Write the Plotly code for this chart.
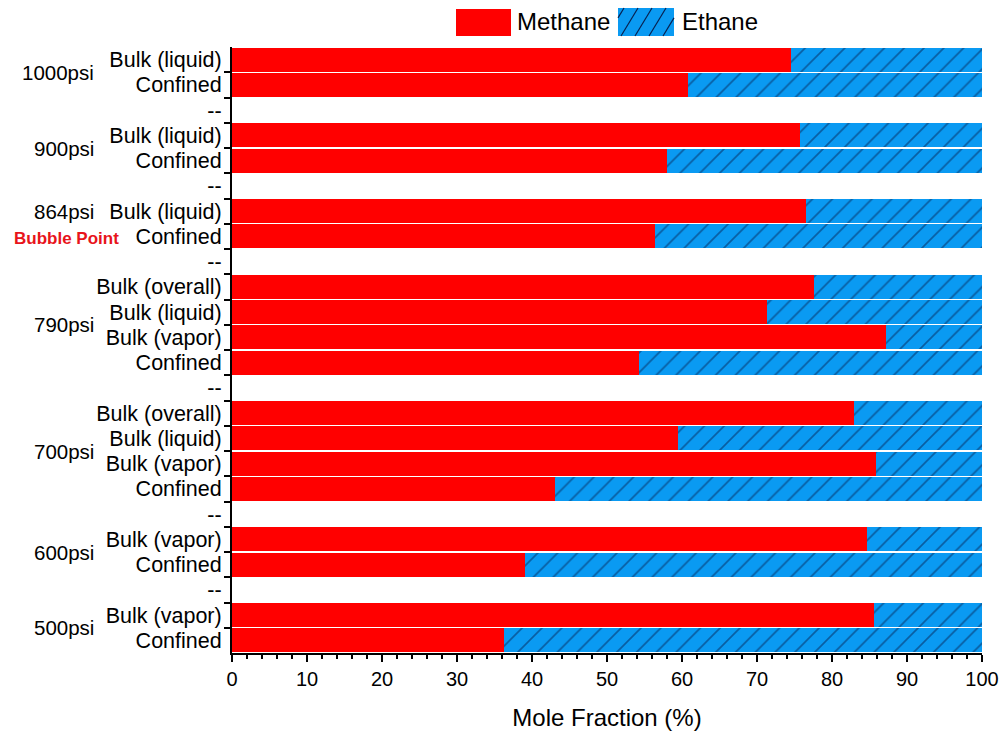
import plotly.graph_objects as go

# Row labels (top to bottom); "--" rows separate the pressure groups
row_labels = [
    "Bulk (liquid)", "Confined", "--",
    "Bulk (liquid)", "Confined", "--",
    "Bulk (liquid)", "Confined", "--",
    "Bulk (overall)", "Bulk (liquid)", "Bulk (vapor)", "Confined", "--",
    "Bulk (overall)", "Bulk (liquid)", "Bulk (vapor)", "Confined", "--",
    "Bulk (vapor)", "Confined", "--",
    "Bulk (vapor)", "Confined",
]

# Mole fractions (%) per row; None for separator rows
methane = [
    74.5, 60.8, None,
    75.7, 58.0, None,
    76.5, 56.4, None,
    77.6, 71.3, 87.2, 54.2, None,
    82.9, 59.5, 85.9, 43.0, None,
    84.7, 39.1, None,
    85.6, 36.2,
]
ethane = [
    25.5, 39.2, None,
    24.3, 42.0, None,
    23.5, 43.6, None,
    22.4, 28.7, 12.8, 45.8, None,
    17.1, 40.5, 14.1, 57.0, None,
    15.3, 60.9, None,
    14.4, 63.8,
]

# Pressure group labels and the row positions they are centred on
pressure_labels = ["1000psi", "900psi", "864psi", "790psi", "700psi", "600psi", "500psi"]
pressure_rows = [0.5, 3.5, 6, 10.5, 15.5, 19.5, 22.5]

x_ticks = [0, 10, 20, 30, 40, 50, 60, 70, 80, 90, 100]

RED = "#FF0000"
BLUE = "#0A9AF2"
HATCH = "#08204F"
FONT = "Liberation Sans, Arial, sans-serif"

W, H = 1003, 731
ML, MR, MT, MB = 232, 21, 47, 78
PW, PH = W - ML - MR, H - MT - MB

rows = list(range(len(row_labels)))

fig = go.Figure()
fig.add_trace(go.Bar(
    y=rows, x=methane, orientation="h", name="Methane",
    marker=dict(color=RED, line=dict(width=0)),
))
fig.add_trace(go.Bar(
    y=rows, x=ethane, orientation="h", name="Ethane",
    marker=dict(
        color=BLUE, line=dict(width=0),
        pattern=dict(shape="/", fillmode="overlay", fgcolor=HATCH,
                     size=14, solidity=0.12),
    ),
))

# Pressure group labels to the left of the row labels
annotations = []
for lab, r in zip(pressure_labels, pressure_rows):
    annotations.append(dict(
        text=lab, x=-136 / PW, xref="paper", y=r, yref="y",
        xanchor="right", yanchor="middle", showarrow=False,
        font=dict(family=FONT, size=20.5, color="black"),
    ))
annotations.append(dict(
    text="<b>Bubble Point</b>", x=-111 / PW, xref="paper", y=7.1, yref="y",
    xanchor="right", yanchor="middle", showarrow=False,
    font=dict(family=FONT, size=17, color="#E8141B"),
))


def px_x(px):
    return (px - ML) / PW


def px_y(py):
    return (H - MB - py) / PH


# Legend drawn above the plot
shapes = []
shapes.append(dict(type="rect", xref="paper", yref="paper",
                   x0=px_x(456), x1=px_x(511), y0=px_y(36), y1=px_y(9),
                   fillcolor=RED, line=dict(width=0), layer="above"))
lx0, lx1, ly0, ly1 = 618, 674, 8, 36
shapes.append(dict(type="rect", xref="paper", yref="paper",
                   x0=px_x(lx0), x1=px_x(lx1), y0=px_y(ly1), y1=px_y(ly0),
                   fillcolor=BLUE, line=dict(width=0), layer="above"))
dx = 17
for b in range(lx0 - dx + 6, lx1, 14):
    t0 = max(0.0, (lx0 - b) / dx)
    t1 = min(1.0, (lx1 - b) / dx)
    if t1 <= t0:
        continue
    xa, ya = b + dx * t0, ly1 - (ly1 - ly0) * t0
    xb, yb = b + dx * t1, ly1 - (ly1 - ly0) * t1
    shapes.append(dict(type="line", xref="paper", yref="paper",
                       x0=px_x(xa), y0=px_y(ya), x1=px_x(xb), y1=px_y(yb),
                       line=dict(color=HATCH, width=1.2), layer="above"))
annotations.append(dict(text="Methane", xref="paper", yref="paper",
                        x=px_x(515), y=px_y(22), xanchor="left", yanchor="middle",
                        showarrow=False, font=dict(family=FONT, size=24, color="black")))
annotations.append(dict(text="Ethane", xref="paper", yref="paper",
                        x=px_x(680), y=px_y(22), xanchor="left", yanchor="middle",
                        showarrow=False, font=dict(family=FONT, size=24, color="black")))

boundaries = [i + 0.5 for i in range(len(row_labels) - 1)]

fig.update_layout(
    width=W, height=H,
    margin=dict(l=ML, r=MR, t=MT, b=MB, pad=0),
    barmode="stack", bargap=0.05,
    plot_bgcolor="white", paper_bgcolor="white",
    showlegend=False,
    font=dict(family=FONT, size=20, color="black"),
    annotations=annotations, shapes=shapes,
    xaxis=dict(
        range=[0, 100], tickvals=x_ticks, ticks="outside", ticklen=7,
        tickwidth=2, tickcolor="black", showline=True, linewidth=2,
        linecolor="black", showgrid=False, zeroline=False, automargin=False,
        tickfont=dict(family=FONT, size=20),
        minor=dict(dtick=2, ticks="outside", ticklen=4, tickwidth=1.5,
                   tickcolor="black", showgrid=False),
        title=dict(text="Mole Fraction (%)", standoff=20,
                   font=dict(family=FONT, size=24)),
    ),
    yaxis=dict(
        range=[len(row_labels) - 0.5, -0.5], tickvals=rows, ticktext=row_labels,
        ticks="", showline=True, linewidth=2, linecolor="black",
        showgrid=False, zeroline=False, ticklabelstandoff=4, automargin=False,
        tickfont=dict(family=FONT, size=21.5),
        minor=dict(tickmode="array", tickvals=boundaries, ticks="outside",
                   ticklen=6, tickwidth=2, tickcolor="black", showgrid=False),
    ),
)

fig.write_html("out.html")
